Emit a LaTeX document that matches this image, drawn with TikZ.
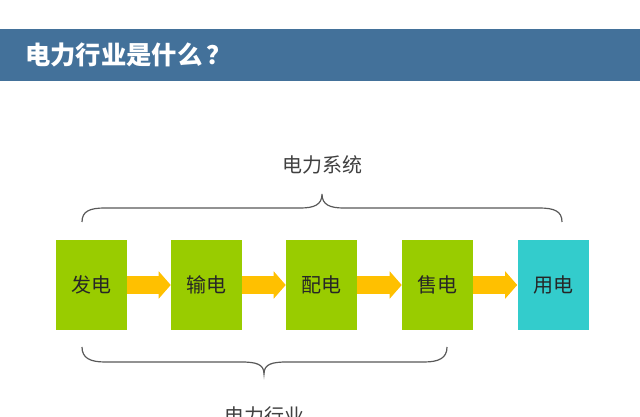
\documentclass[tikz,border=0pt]{standalone}
\usepackage{fontspec}
\setmainfont{Noto Sans CJK SC}
\usetikzlibrary{arrows.meta}
\definecolor{headblue}{RGB}{67,113,154}
\definecolor{stepgreen}{RGB}{153,204,0}
\definecolor{usecyan}{RGB}{51,204,204}
\definecolor{flowyellow}{RGB}{255,192,0}
\definecolor{bracegray}{RGB}{89,89,89}
\tikzset{
  stage/.style={fill=stepgreen, minimum width=53.25pt, minimum height=67.5pt,
    inner sep=0pt, font=\fontsize{15pt}{15pt}\selectfont, text=black!85},
  stage end/.style={stage, fill=usecyan},
  flow/.style={flowyellow, line width=13.5pt,
    -{Triangle[width=20pt, length=9pt]}},
  curly/.style={bracegray, line width=0.9pt},
  group label/.style={font=\fontsize{15pt}{15pt}\selectfont, text=black!75}
}
\begin{document}
\begin{tikzpicture}[x=0.75pt, y=-0.75pt]
\clip (0,0) rectangle (640,417);
\fill[white] (0,0) rectangle (640,417);
\fill[headblue] (0,29) rectangle (640,81);
\node[anchor=west, text=white, font=\fontsize{19pt}{19pt}\selectfont\bfseries, inner sep=0pt] (title) at (25,55) {电力行业是什么\,？};

\node[stage]     (gen)   at (91.5,285)  {发电};
\node[stage]     (trans) at (206.5,285) {输电};
\node[stage]     (dist)  at (321.5,285) {配电};
\node[stage]     (sell)  at (437.5,285) {售电};
\node[stage end] (use)   at (553,285)   {用电};

\draw[flow] (gen)   -- (trans);
\draw[flow] (trans) -- (dist);
\draw[flow] (dist)  -- (sell);
\draw[flow] (sell)  -- (use);

\draw[curly] (82,222) .. controls (82,211) and (90,208) .. (105,208) -- (300,208)
  .. controls (314,208) and (322,205) .. (322,194)
  .. controls (322,205) and (330,208) .. (344,208) -- (539,208)
  .. controls (554,208) and (562,211) .. (562,222);
\node[group label] (system) at (322,165) {电力系统};

\draw[curly] (82,347) .. controls (82,358) and (90,362) .. (105,362) -- (241,362)
  .. controls (256,362) and (264,364) .. (264,374)
  .. controls (264,364) and (272,362) .. (287,362) -- (424,362)
  .. controls (439,362) and (447,358) .. (447,347);
\node[group label] (industry) at (264,416) {电力行业};
\end{tikzpicture}
\end{document}
